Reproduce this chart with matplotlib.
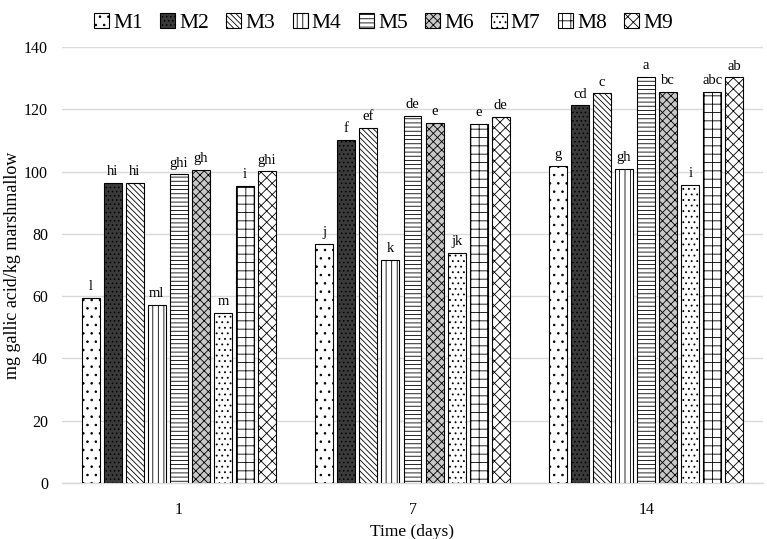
import matplotlib.pyplot as plt
import numpy as np

plt.rcParams['font.family'] = ['Liberation Serif', 'DejaVu Serif']
plt.rcParams['hatch.linewidth'] = 0.6

days = ["1", "7", "14"]
samples = ["M1", "M2", "M3", "M4", "M5", "M6", "M7", "M8", "M9"]

# mg gallic acid / kg marshmallow, one list per sample (days 1, 7, 14)
m1 = [59.5, 76.7, 101.8]
m2 = [96.3, 110.1, 121.3]
m3 = [96.4, 114.0, 125.1]
m4 = [57.3, 71.6, 100.9]
m5 = [99.1, 117.9, 130.5]
m6 = [100.6, 115.6, 125.6]
m7 = [54.6, 73.9, 95.7]
m8 = [95.4, 115.3, 125.6]
m9 = [100.1, 117.6, 130.3]
values = [m1, m2, m3, m4, m5, m6, m7, m8, m9]

# significance letters
letters = [
    ["l", "j", "g"],
    ["hi", "f", "cd"],
    ["hi", "ef", "c"],
    ["ml", "k", "gh"],
    ["ghi", "de", "a"],
    ["gh", "e", "bc"],
    ["m", "jk", "i"],
    ["i", "e", "abc"],
    ["ghi", "de", "ab"],
]

faces = ["white", "#3a3a3a", "white", "white", "white", "#c8c8c8", "white", "white", "white"]
hatches = ["..", "....", "\\\\\\\\\\\\", "|||", "----", "xxxx", "...", "++", "xxx"]

fig = plt.figure(figsize=(7.67, 5.39), dpi=100)
ax = fig.add_axes([62 / 767, (539 - 483) / 539, 701 / 767, (483 - 47) / 539])

x = np.arange(len(days))
pitch = 0.0944
width = 0.077

for i, (name, vals) in enumerate(zip(samples, values)):
    pos = x + (i - 4) * pitch
    bars = ax.bar(pos, vals, width, facecolor=faces[i], edgecolor="black",
                  hatch=hatches[i], linewidth=0.8, label=name, zorder=3)
    for b, lab in zip(bars, letters[i]):
        ax.text(b.get_x() + b.get_width() / 2, b.get_height() + 1.5, lab,
                ha="center", va="bottom", fontsize=10.5)

ax.set_xlim(-0.5, 2.5)
ax.set_ylim(0, 140)
ax.set_yticks(np.arange(0, 141, 20))
ax.set_xticks(x)
ax.set_xticklabels(days)
ax.tick_params(length=0, labelsize=11.5, pad=10)
ax.tick_params(axis="x", pad=14)
ax.grid(axis="y", color="#d9d9d9", linewidth=1, zorder=0)
for s in ["top", "right", "left"]:
    ax.spines[s].set_visible(False)
ax.spines["bottom"].set_color("#d9d9d9")
ax.spines["bottom"].set_linewidth(1)

ax.set_xlabel("Time (days)", fontsize=12.5, labelpad=4)
ax.set_ylabel("mg gallic acid/kg marshmallow", fontsize=13, labelpad=2)

fig.legend(loc="upper center", bbox_to_anchor=(0.5, 1.012), ncol=9, frameon=False,
           fontsize=15.5, handlelength=0.7, handleheight=0.7, handletextpad=0.2,
           columnspacing=0.8)

fig.savefig("out.png", dpi=100)
